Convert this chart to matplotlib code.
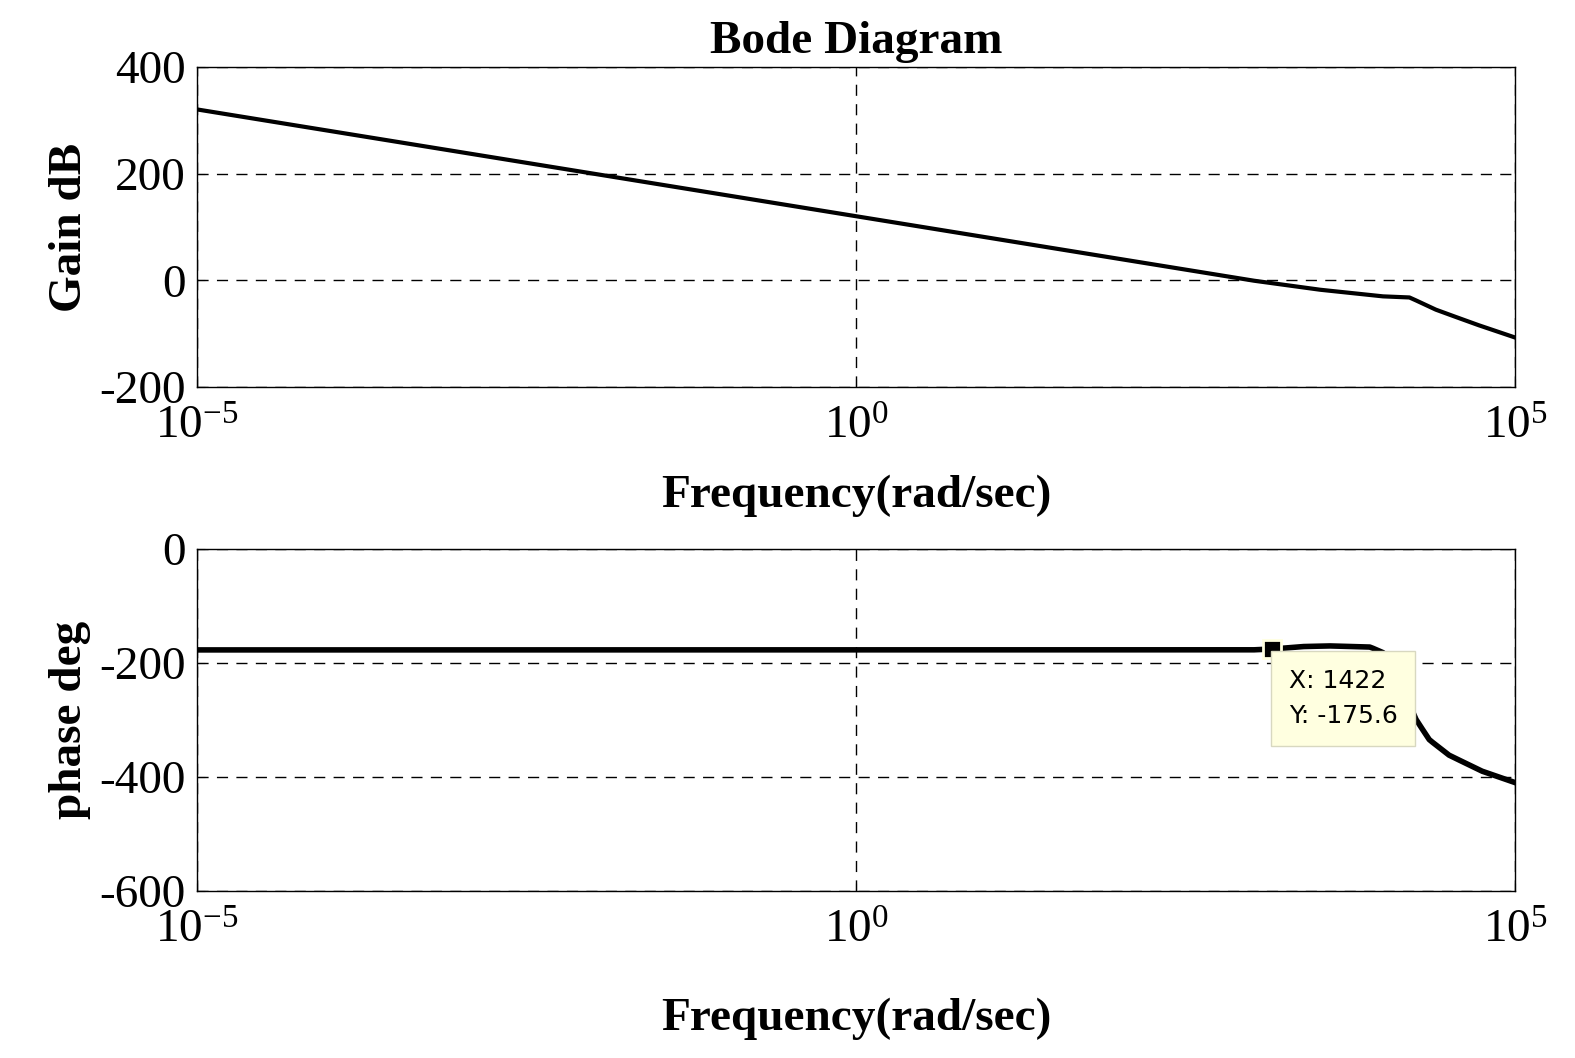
import matplotlib
matplotlib.use("Agg")
import matplotlib.pyplot as plt
import numpy as np

plt.rcParams['font.family'] = 'Liberation Serif'
plt.rcParams['mathtext.fontset'] = 'custom'
plt.rcParams['mathtext.rm'] = 'Liberation Serif'
plt.rcParams['mathtext.it'] = 'Liberation Serif'
plt.rcParams['axes.unicode_minus'] = False

gain_logw = [-5, 0, 3, 3.5, 4.0, 4.2, 4.4, 4.7, 5.0]
gain_db = [320, 120, 0, -17, -30, -32, -55, -82, -107]
phase_logw = [-5, 3.0, 3.15, 3.4, 3.6, 3.9, 4.0, 4.05, 4.15, 4.25, 4.35, 4.5, 4.75, 5.0]
phase_deg = [-177, -177, -175.6, -171, -170, -172, -182, -195, -247, -300, -335, -362, -390, -410]
tip_x, tip_y = 1422, -175.6

fig = plt.figure(figsize=(15.75, 10.58), dpi=100)
ax1 = fig.add_axes([0.125, 0.634, 0.837, 0.303])
ax2 = fig.add_axes([0.125, 0.158, 0.837, 0.323])

w1 = np.logspace(-5, 5, 400)
g = np.interp(np.log10(w1), gain_logw, gain_db)
ax1.semilogx(w1, g, color='black', lw=3)
ax1.set_ylim(-200, 400)
ax1.set_yticks([-200, 0, 200, 400])
ax1.set_title('Bode Diagram', fontsize=34, fontweight='bold', pad=10)
ax1.set_ylabel('Gain dB', fontsize=34, fontweight='bold', labelpad=6)
ax1.set_xlabel('Frequency(rad/sec)', fontsize=34, fontweight='bold', labelpad=18)

p = np.interp(np.log10(w1), phase_logw, phase_deg)
ax2.semilogx(w1, p, color='black', lw=4)
ax2.set_ylim(-600, 0)
ax2.set_yticks([-600, -400, -200, 0])
ax2.set_ylabel('phase deg', fontsize=34, fontweight='bold', labelpad=6)
ax2.set_xlabel('Frequency(rad/sec)', fontsize=34, fontweight='bold', labelpad=32)
ax2.plot([tip_x], [tip_y], 's', color='black', ms=13, mec='#ffffe0', mew=2, zorder=5)
ax2.text(tip_x * 1.35, -262, f'X: {tip_x}\nY: {tip_y}', fontsize=18, family='DejaVu Sans',
         va='center', ha='left', linespacing=1.6, zorder=6,
         bbox=dict(boxstyle='square,pad=0.7', fc='#ffffe0', ec='#d8d8c0'))

for ax in (ax1, ax2):
    ax.set_xlim(1e-5, 1e5)
    ax.set_xticks([1e-5, 1, 1e5])
    ax.set_xticklabels([r'$10^{-5}$', r'$10^{0}$', r'$10^{5}$'])
    ax.minorticks_off()
    ax.grid(True, which='major', ls=(0, (8, 6)), color='black', lw=1)
    ax.tick_params(labelsize=34, direction='in', length=6)
    ax.tick_params(axis='x', pad=14)
    ax.tick_params(axis='y', pad=8)
    for s in ax.spines.values():
        s.set_linewidth(1)

fig.savefig('out.png', dpi=100, facecolor='white')
